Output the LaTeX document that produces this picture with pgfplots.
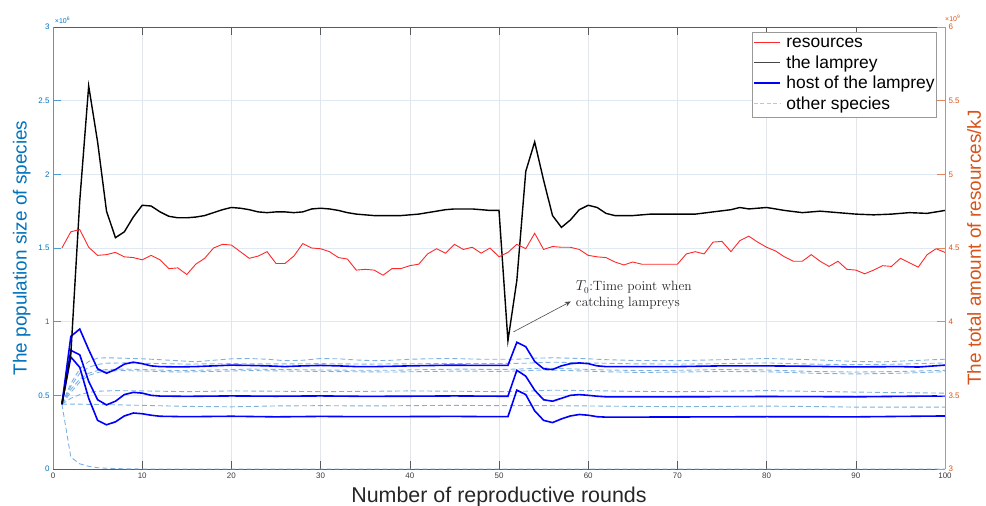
\documentclass[border=0pt]{standalone}
\usepackage{fontspec}
\setsansfont{Liberation Sans}
\renewcommand{\familydefault}{\sfdefault}
\usepackage{pgfplots}
\usepackage{pgfplotstable}
\pgfplotsset{compat=1.18}
\usetikzlibrary{arrows.meta}
\definecolor{lax}{RGB}{0,114,189}
\definecolor{rax}{RGB}{217,83,25}
\definecolor{gridy}{RGB}{222,233,243}
\definecolor{gridx}{RGB}{226,229,233}
\definecolor{dblue}{RGB}{125,178,224}
\definecolor{lgdblue}{RGB}{170,205,235}
\definecolor{resred}{RGB}{255,40,40}
\definecolor{hostblue}{RGB}{0,0,255}
\definecolor{lampgray}{RGB}{70,70,70}
\definecolor{tickgray}{RGB}{60,60,60}
\definecolor{boxgray}{RGB}{90,90,90}
\newcommand{\lsample}[2]{\textcolor{#1}{\rule[0.3em]{26bp}{#2}}}
\newcommand{\dsample}{\textcolor{lgdblue}{\rule[0.3em]{4bp}{0.9bp}\hspace{2.4bp}\rule[0.3em]{4bp}{0.9bp}\hspace{2.4bp}\rule[0.3em]{4bp}{0.9bp}\hspace{2.4bp}\rule[0.3em]{4bp}{0.9bp}\hspace{2.4bp}\rule[0.3em]{1.8bp}{0.9bp}}}

\pgfplotstableread{
x y
1 4.50
2 4.61
3 4.625
4 4.505
5 4.45
6 4.455
7 4.47
8 4.44
9 4.435
10 4.42
11 4.45
12 4.42
13 4.36
14 4.365
15 4.32
16 4.39
17 4.43
18 4.50
19 4.525
20 4.52
21 4.475
22 4.43
23 4.445
24 4.475
25 4.395
26 4.395
27 4.445
28 4.53
29 4.50
30 4.495
31 4.475
32 4.435
33 4.425
34 4.35
35 4.355
36 4.35
37 4.315
38 4.36
39 4.36
40 4.38
41 4.39
42 4.46
43 4.495
44 4.465
45 4.525
46 4.49
47 4.505
48 4.465
49 4.50
50 4.44
51 4.47
52 4.525
53 4.495
54 4.60
55 4.49
56 4.51
57 4.505
58 4.505
59 4.49
60 4.45
61 4.44
62 4.435
63 4.405
64 4.385
65 4.405
66 4.39
67 4.39
68 4.39
69 4.39
70 4.39
71 4.46
72 4.475
73 4.46
74 4.54
75 4.545
76 4.475
77 4.55
78 4.58
79 4.54
80 4.505
81 4.48
82 4.44
83 4.41
84 4.41
85 4.455
86 4.41
87 4.375
88 4.41
89 4.355
90 4.35
91 4.325
92 4.35
93 4.38
94 4.375
95 4.43
96 4.40
97 4.37
98 4.455
99 4.495
100 4.47
}\resdata

\pgfplotstableread{
x y
1 0.44
2 0.78
3 1.82
4 2.60
5 2.22
6 1.75
7 1.57
8 1.61
9 1.71
10 1.79
11 1.785
12 1.745
13 1.715
14 1.705
15 1.705
16 1.71
17 1.72
18 1.74
19 1.76
20 1.775
21 1.77
22 1.76
23 1.745
24 1.74
25 1.745
26 1.745
27 1.74
28 1.745
29 1.765
30 1.77
31 1.765
32 1.755
33 1.74
34 1.73
35 1.725
36 1.72
37 1.72
38 1.72
39 1.72
40 1.725
41 1.73
42 1.74
43 1.75
44 1.76
45 1.765
46 1.765
47 1.765
48 1.76
49 1.755
50 1.755
51 0.87
52 1.28
53 2.02
54 2.22
55 1.96
56 1.72
57 1.64
58 1.69
59 1.76
60 1.79
61 1.775
62 1.735
63 1.72
64 1.72
65 1.72
66 1.725
67 1.73
68 1.73
70 1.73
72 1.73
74 1.745
76 1.76
77 1.775
78 1.765
79 1.77
80 1.775
81 1.765
82 1.755
84 1.74
86 1.75
88 1.74
90 1.73
92 1.725
94 1.73
96 1.74
98 1.735
100 1.755
}\lampdata

\begin{document}
\begin{tikzpicture}
\begin{axis}[
  at={(0,0)}, anchor=south west,
  scale only axis, width=892bp, height=442bp,
  xmin=0, xmax=100, ymin=0, ymax=3,
  xtick={0,10,...,100}, ytick={0,0.5,...,3},
  separate axis lines,
  axis x line=box, axis y line*=left,
  x axis line style={draw=boxgray, line width=0.6bp},
  y axis line style={draw=lax!70, line width=0.6bp},
  tick align=inside, major tick length=8bp,
  xtick pos=both,
  x tick style={draw=boxgray, line width=0.5bp},
  y tick style={draw=lax!70, line width=0.5bp},
  xmajorgrids, ymajorgrids,
  x grid style={draw=gridx, line width=0.5bp},
  y grid style={draw=gridy, line width=0.5bp},
  /pgf/number format/assume math mode=true,
  ticklabel style={font=\fontsize{8}{9}\selectfont},
  xticklabel style={color=tickgray},
  yticklabel style={color=lax},
  xlabel={Number of reproductive rounds},
  xlabel style={font=\fontsize{21.5}{24}\selectfont, color=black!85, at={(axis description cs:0.5,-0.0769)}, anchor=base},
  ylabel={The population size of species},
  ylabel style={font=\fontsize{19}{22}\selectfont, color=lax, at={(axis description cs:-0.035,0.5)}, anchor=center},
  clip=false,
]
% other species
\addplot[dblue, line width=0.9bp, dash pattern=on 5bp off 3bp] coordinates {
(1,0.44)(2,0.58)(3,0.68)(4,0.73)(5,0.752)(6,0.755)(8,0.752)(10,0.748)(12,0.742)(14,0.735)(16,0.728)(18,0.738)(20,0.748)(22,0.75)(24,0.745)(26,0.735)(28,0.738)(30,0.75)(32,0.748)(34,0.74)(36,0.735)(38,0.738)(40,0.745)(42,0.748)(44,0.75)(46,0.748)(48,0.745)(50,0.745)(52,0.745)(54,0.752)(56,0.755)(58,0.752)(60,0.748)(62,0.742)(65,0.737)(70,0.735)(75,0.742)(80,0.75)(85,0.742)(90,0.73)(93,0.727)(96,0.735)(100,0.745)};
\addplot[dblue, line width=0.9bp, dash pattern=on 5bp off 3bp] coordinates {
(1,0.44)(2,0.56)(3,0.65)(4,0.69)(5,0.71)(6,0.718)(8,0.72)(10,0.718)(15,0.712)(20,0.715)(25,0.713)(30,0.715)(35,0.712)(40,0.714)(45,0.716)(50,0.716)(53,0.718)(56,0.725)(60,0.72)(65,0.714)(70,0.712)(75,0.715)(80,0.72)(85,0.712)(90,0.708)(95,0.712)(100,0.72)};
\addplot[dblue, line width=0.9bp, dash pattern=on 5bp off 3bp] coordinates {
(1,0.44)(2,0.54)(3,0.61)(4,0.65)(5,0.668)(6,0.675)(8,0.678)(10,0.675)(14,0.668)(18,0.672)(22,0.678)(26,0.675)(30,0.672)(34,0.67)(38,0.67)(42,0.675)(46,0.678)(50,0.675)(53,0.68)(55,0.685)(58,0.68)(62,0.672)(66,0.668)(70,0.67)(75,0.675)(80,0.672)(85,0.662)(90,0.658)(95,0.662)(100,0.67)};
\addplot[dblue, line width=0.9bp, dash pattern=on 5bp off 3bp] coordinates {
(1,0.44)(2,0.52)(3,0.59)(4,0.635)(5,0.655)(6,0.665)(8,0.668)(10,0.665)(14,0.658)(18,0.662)(22,0.668)(26,0.665)(30,0.662)(34,0.66)(38,0.658)(42,0.662)(46,0.665)(50,0.662)(53,0.667)(55,0.672)(58,0.668)(62,0.66)(66,0.655)(70,0.658)(75,0.662)(80,0.66)(85,0.65)(90,0.645)(95,0.65)(100,0.66)};
\addplot[dblue, line width=0.9bp, dash pattern=on 5bp off 3bp] coordinates {
(1,0.44)(2,0.48)(3,0.505)(4,0.52)(5,0.528)(7,0.532)(10,0.53)(15,0.525)(20,0.53)(25,0.528)(30,0.525)(35,0.527)(40,0.53)(45,0.528)(50,0.525)(53,0.528)(56,0.535)(60,0.532)(65,0.527)(70,0.525)(75,0.528)(80,0.532)(85,0.527)(90,0.522)(95,0.518)(100,0.515)};
\addplot[dblue, line width=0.9bp, dash pattern=on 5bp off 3bp] coordinates {
(1,0.44)(3,0.44)(5,0.438)(10,0.432)(15,0.425)(20,0.422)(25,0.428)(30,0.43)(35,0.428)(40,0.43)(45,0.432)(50,0.43)(55,0.43)(60,0.428)(65,0.425)(70,0.423)(75,0.425)(80,0.427)(85,0.424)(90,0.42)(95,0.42)(100,0.42)};
\addplot[dblue, line width=0.9bp, dash pattern=on 5bp off 3bp] coordinates {
(1,0.44)(2,0.08)(3,0.035)(4,0.018)(5,0.009)(6,0.005)(7,0.003)(8,0.0015)(10,0)(100,0)};
% host of the lamprey
\addplot[blue, line width=1.6bp] coordinates {
(1,0.44)(2,0.90)(3,0.95)(4,0.81)(5,0.68)(6,0.65)(7,0.675)(8,0.712)(9,0.725)(10,0.715)(11,0.70)(12,0.695)(14,0.693)(16,0.695)(18,0.70)(20,0.705)(22,0.703)(24,0.70)(26,0.695)(28,0.70)(30,0.703)(32,0.70)(34,0.695)(36,0.695)(38,0.697)(40,0.70)(42,0.702)(44,0.704)(46,0.704)(48,0.703)(50,0.703)(51,0.703)(52,0.86)(53,0.83)(54,0.73)(55,0.68)(56,0.675)(57,0.70)(58,0.715)(59,0.72)(60,0.715)(61,0.70)(62,0.695)(65,0.695)(70,0.695)(75,0.70)(80,0.70)(85,0.697)(90,0.693)(95,0.695)(97,0.692)(100,0.705)};
\addplot[blue, line width=1.6bp] coordinates {
(1,0.44)(2,0.805)(3,0.775)(4,0.595)(5,0.47)(6,0.435)(7,0.46)(8,0.505)(9,0.52)(10,0.515)(11,0.50)(12,0.495)(15,0.493)(20,0.496)(25,0.494)(30,0.496)(35,0.493)(40,0.494)(45,0.496)(50,0.494)(51,0.494)(52,0.67)(53,0.63)(54,0.535)(55,0.47)(56,0.46)(57,0.48)(58,0.50)(59,0.505)(60,0.50)(61,0.494)(62,0.49)(70,0.49)(80,0.492)(90,0.49)(100,0.496)};
\addplot[blue, line width=1.6bp] coordinates {
(1,0.44)(2,0.76)(3,0.69)(4,0.48)(5,0.33)(6,0.30)(7,0.32)(8,0.36)(9,0.38)(10,0.375)(11,0.365)(12,0.358)(15,0.355)(20,0.358)(25,0.354)(30,0.357)(35,0.355)(40,0.356)(45,0.357)(50,0.355)(51,0.355)(52,0.535)(53,0.505)(54,0.395)(55,0.33)(56,0.315)(57,0.34)(58,0.36)(59,0.37)(60,0.365)(61,0.355)(62,0.352)(70,0.353)(80,0.355)(90,0.354)(100,0.36)};
% the lamprey
\addplot[black, line width=1.4bp] table[x=x, y=y] {\lampdata};
% annotation
\draw[black!70, line width=0.6bp, -{Stealth[length=6bp, width=5bp]}] (axis cs:51.6,0.93) -- (axis cs:58.05,1.137);
\node[anchor=west, align=left, font=\rmfamily\fontsize{13.5}{16}\selectfont, text=black!85, inner sep=0pt] at (axis cs:58.6,1.178) {$T_0$:Time point when\\catching lampreys};
\node[anchor=south west, font=\fontsize{7}{8}\selectfont, text=lax, inner sep=0pt] at (rel axis cs:0.002,1.008) {\texttimes10\textsuperscript{6}};
\end{axis}

\begin{axis}[
  at={(0,0)}, anchor=south west,
  scale only axis, width=892bp, height=442bp,
  xmin=0, xmax=100, ymin=3, ymax=6,
  axis x line=none, axis y line*=right,
  y axis line style={draw=rax!70, line width=0.6bp},
  ytick={3,3.5,...,6},
  tick align=inside, major tick length=8bp,
  y tick style={draw=rax!70, line width=0.5bp},
  /pgf/number format/assume math mode=true,
  ticklabel style={font=\fontsize{8}{9}\selectfont},
  yticklabel style={color=rax},
  ylabel={The total amount of resources/kJ},
  ylabel style={font=\fontsize{19}{22}\selectfont, color=rax, at={(axis description cs:1.0325,0.5)}, anchor=center},
  clip=false,
]
\addplot[resred, line width=0.9bp] table[x=x, y=y] {\resdata};
\node[anchor=south west, font=\fontsize{7}{8}\selectfont, text=rax, inner sep=0pt] at (rel axis cs:1.0,1.012) {\texttimes10\textsuperscript{9}};
\node[anchor=north east, draw=gray!80, line width=0.6bp, fill=white, inner xsep=2bp, inner ysep=1.5bp, font=\fontsize{17.5}{20.5}\selectfont, text=black] at (rel axis cs:0.991,0.989) {%
\begin{tabular}{@{}l@{\hspace{5bp}}l@{}}
\lsample{resred}{1bp} & resources\\
\lsample{lampgray}{1.6bp} & the lamprey\\
\lsample{hostblue}{1.2bp} & host of the lamprey\\
\dsample & other species
\end{tabular}};
\end{axis}
\pgfresetboundingbox
\path (-53bp,-37bp) rectangle (933bp,469bp);
\end{tikzpicture}
\end{document}
